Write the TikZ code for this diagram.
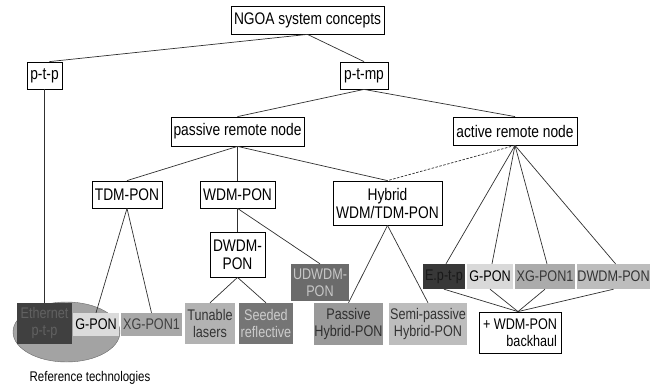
\documentclass[tikz,border=0pt]{standalone}
\usepackage{fontspec}
\setmainfont{Liberation Sans}[FakeStretch=0.82]
\usetikzlibrary{shapes.geometric}
\definecolor{linec}{HTML}{303030}
\tikzset{
  box/.style={draw=black, line width=0.8pt, fill=white, inner sep=0pt, align=center,
    font=\fontsize{16.8}{18}\selectfont},
  tech/.style={inner sep=0pt, align=center, font=\fontsize{15.4}{17}\selectfont},
  conn/.style={draw=linec, line width=0.7pt},
}
\begin{document}
\begin{tikzpicture}[x=1pt,y=-1pt]
\useasboundingbox (0,0) rectangle (650,387);
% ellipse
\node[ellipse, draw=gray!80!black, fill=black!36, minimum width=107, minimum height=60, inner sep=0pt] (refell) at (66.5,332) {};
% top level
\node[box, minimum width=153, minimum height=28] (ngoa) at (307.5,20) {NGOA system concepts};
\node[box, minimum width=35, minimum height=27] (ptp) at (44.5,75.5) {p-t-p};
\node[box, minimum width=48, minimum height=27] (ptmp) at (364,75.5) {p-t-mp};
\node[box, minimum width=133, minimum height=29] (passive) at (237.5,131.5) {passive remote node};
\node[box, minimum width=124, minimum height=28] (active) at (515,131) {active remote node};
\node[box, minimum width=70, minimum height=27] (tdm) at (127,194.5) {TDM-PON};
\node[box, minimum width=75, minimum height=27] (wdm) at (237.5,194.5) {WDM-PON};
\node[box, minimum width=109, minimum height=44] (hybrid) at (387.5,203) {Hybrid\\WDM/TDM-PON};
\node[box, minimum width=55, minimum height=45] (dwdm) at (237.5,254.5) {DWDM-\\PON};
% technologies
\node[tech, fill=black!58, text=black!22, minimum width=58, minimum height=37] (udwdm) at (320,282.5) {UDWDM-\\PON};
\node[tech, fill=black!75, text=black!62, minimum width=55, minimum height=41] (eth) at (44.5,323.5) {Ethernet\\p-t-p};
\node[tech, fill=black!14, text=black, minimum width=46, minimum height=23] (gponA) at (96,324.5) {G-PON};
\node[tech, fill=black!34, text=black!75, minimum width=61, minimum height=23] (xgponA) at (151.5,324.5) {XG-PON1};
\node[tech, fill=black!30, text=black!80, minimum width=50, minimum height=41] (tunable) at (210,323.5) {Tunable\\lasers};
\node[tech, fill=black!54, text=black!20, minimum width=54, minimum height=41] (seeded) at (266,323.5) {Seeded\\reflective};
\node[tech, fill=black!40, text=black!82, minimum width=69, minimum height=42] (passhyb) at (348.5,324) {Passive\\Hybrid-PON};
\node[tech, fill=black!26, text=black!80, minimum width=78, minimum height=42] (semihyb) at (428,324) {Semi-passive\\Hybrid-PON};
\node[tech, fill=black!78, text=black!90, minimum width=42, minimum height=25] (ept) at (444,276.5) {E.p-t-p};
\node[tech, fill=black!15, text=black, minimum width=46, minimum height=25] (gponB) at (490,276.5) {G-PON};
\node[tech, fill=black!33, text=black!78, minimum width=60, minimum height=25] (xgponB) at (545,276.5) {XG-PON1};
\node[tech, fill=black!26, text=black!80, minimum width=73, minimum height=25] (dwdmB) at (613.5,276.5) {DWDM-PON};
\node[box, align=right, font=\fontsize{15.4}{17}\selectfont, minimum width=82, minimum height=41] (backhaul) at (520,332.5) {+ WDM-PON\\backhaul};
\node[inner sep=0pt, font=\fontsize{14}{16}\selectfont] (reftxt) at (90,378) {Reference technologies};
% connectors
\draw[conn] (ngoa.south) -- ([xshift=5pt]ptp.north);
\draw[conn] (ngoa.south) -- (ptmp.north);
\draw[conn] (ptp.south) -- (eth.north);
\draw[conn] (ptmp.south) -- (passive.north);
\draw[conn] (ptmp.south) -- (active.north);
\draw[conn] (passive.south) -- (tdm.north);
\draw[conn] (passive.south) -- (wdm.north);
\draw[conn] (passive.south) -- (hybrid.north);
\draw[conn, dashed, dash pattern=on 2.5pt off 1.5pt] (active.south) -- (hybrid.north);
\draw[conn] (tdm.south) -- (gponA.north);
\draw[conn] (tdm.south) -- (xgponA.north);
\draw[conn] (wdm.south) -- (dwdm.north);
\draw[conn] (wdm.south) -- (udwdm.north);
\draw[conn] (dwdm.south) -- (tunable.north);
\draw[conn] (dwdm.south) -- (seeded.north);
\draw[conn] (hybrid.south) -- (passhyb.north);
\draw[conn] (hybrid.south) -- (semihyb.north);
\foreach \t in {ept,gponB,xgponB,dwdmB}{
  \draw[conn] (active.south) -- ([xshift=2pt]\t.north);
  \draw[conn] (\t.south) -- ([xshift=-2pt]backhaul.north);
}
\end{tikzpicture}
\end{document}
